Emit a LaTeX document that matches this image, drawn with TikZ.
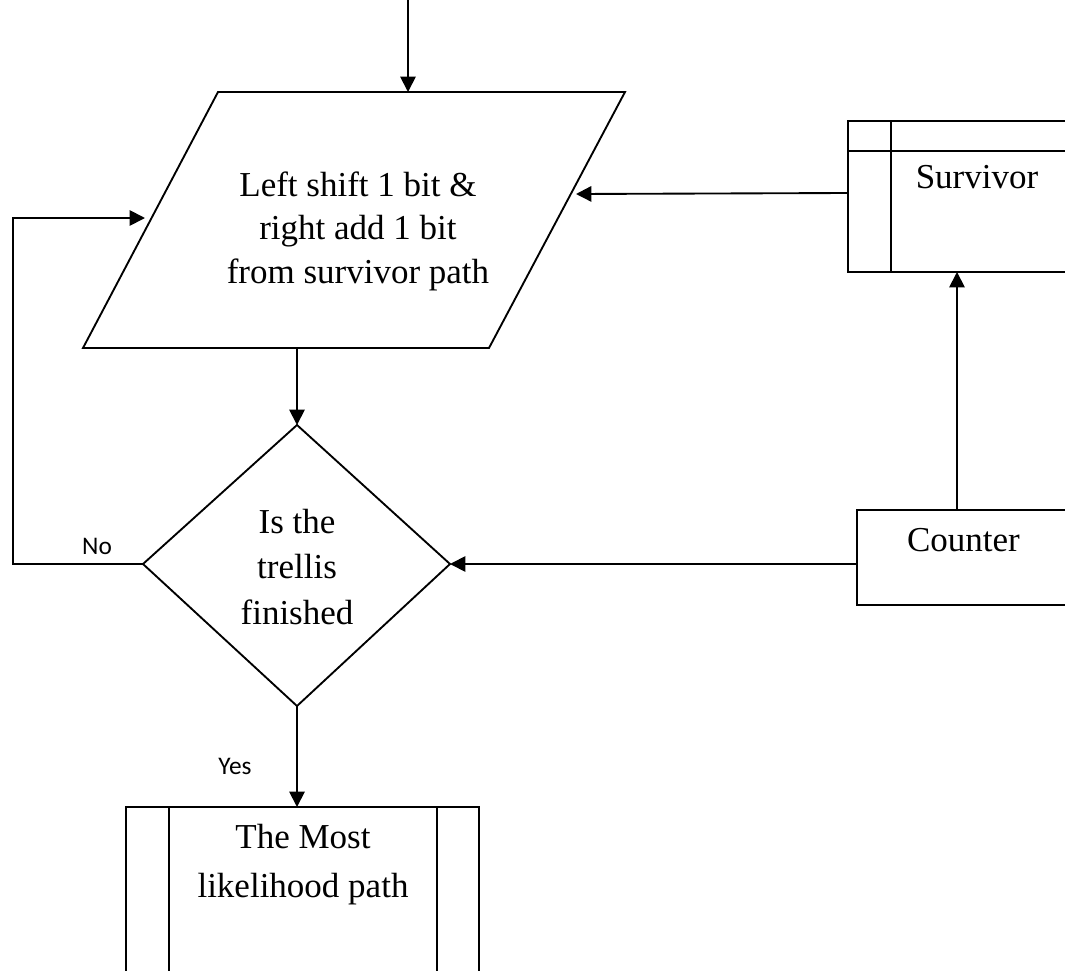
\documentclass[tikz,border=0pt]{standalone}
\usepackage{fontspec}
\setmainfont{Liberation Serif}
\newfontfamily\labelfont{Carlito}
\usetikzlibrary{arrows.meta,calc}

\begin{document}
\begin{tikzpicture}[x=0.75pt,y=-0.75pt,line width=1.4pt,
  flow/.style={-{Triangle[length=11.5pt,width=11.5pt]}},
  edgelabel/.style={font=\labelfont\fontsize{19}{22}\selectfont},
  body/.style={align=center,inner sep=0pt}]
\useasboundingbox (0,0) rectangle (1065,971);
\clip (0,0) rectangle (1065,971);

% input / output step (parallelogram)
\coordinate (pTL) at (218,92);
\coordinate (pTR) at (625,92);
\coordinate (pBR) at (489,348);
\coordinate (pBL) at (83,348);
\draw (pTL) -- (pTR) -- (pBR) -- (pBL) -- cycle;
\node[body,font=\fontsize{26.25}{32.6}\selectfont] (shift) at (358,231)
  {Left shift 1 bit \&\\right add 1 bit\\from survivor path};

% decision
\coordinate (dT) at (297,425);
\coordinate (dR) at (450,564);
\coordinate (dB) at (297,706);
\coordinate (dL) at (143,564);
\draw (dT) -- (dR) -- (dB) -- (dL) -- cycle;
\node[body,font=\fontsize{26.25}{34.1}\selectfont] (test) at (297,567)
  {Is the\\trellis\\finished};

% survivor memory
\draw (848,121) rectangle (1080,272);
\draw (891,121) -- (891,272);
\draw (848,151) -- (1080,151);
\node[body,font=\fontsize{26.25}{30}\selectfont] (survivor) at (977,177) {Survivor};

% counter
\draw (857,510) rectangle (1080,605);
\node[body,font=\fontsize{26.25}{30}\selectfont] (counter) at (963.5,540) {Counter};

% result (predefined process)
\draw (126,990) -- (126,807) -- (479,807) -- (479,990);
\draw (169,807) -- (169,990);
\draw (437,807) -- (437,990);
\node[body,font=\fontsize{26.25}{36.75}\selectfont] (result) at (303,865)
  {The Most\\likelihood path};

% connectors
\coordinate (start) at (408,0);
\coordinate (pTop) at (408,92);
\coordinate (pBot) at (297,348);
\coordinate (loopL) at (13,564);
\coordinate (loopT) at (13,218);
\coordinate (pIn) at (145,218);
\coordinate (survOut) at (848,193);
\coordinate (pRight) at (576,194);
\coordinate (cntLeft) at (857,564);
\coordinate (cntTop) at (957,510);
\coordinate (survBot) at (957,272);
\coordinate (resTop) at (297,807);

\draw[flow] (start) -- (pTop);
\draw[flow] (pBot) -- (dT);
\draw[flow] (dL) -- (loopL) -- (loopT) -- (pIn);
\draw[flow] (survOut) -- (pRight);
\draw[flow] (cntLeft) -- (dR);
\draw[flow] (cntTop) -- (survBot);
\draw[flow] (dB) -- (resTop);

% branch labels
\node[edgelabel] (no) at (97,546) {No};
\node[edgelabel] (yes) at (235,766) {Yes};
\end{tikzpicture}
\end{document}
